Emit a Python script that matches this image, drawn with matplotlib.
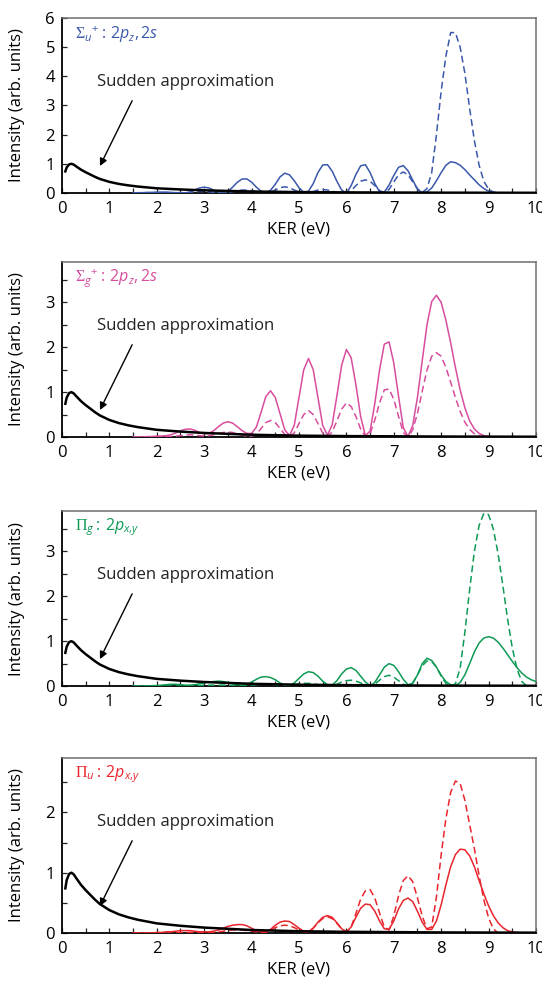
import numpy as np
import matplotlib
matplotlib.use("Agg")
import matplotlib.pyplot as plt
from matplotlib.ticker import MultipleLocator

plt.rcParams['font.family'] = ['Open Sans', 'DejaVu Sans']
plt.rcParams['mathtext.fontset'] = 'custom'
plt.rcParams['mathtext.rm'] = 'Liberation Serif'
plt.rcParams['mathtext.it'] = 'Open Sans:italic'
plt.rcParams['mathtext.sf'] = 'Open Sans'

# ---------------- data ----------------
# sudden approximation curve (same in every panel)
sudden_x = [0.07, 0.1, 0.15, 0.2, 0.25, 0.3, 0.4, 0.5, 0.6, 0.7, 0.8, 0.9, 1.0, 1.2, 1.4,
            1.6, 1.8, 2.0, 2.5, 3.0, 3.5, 4.0, 4.5, 5.0, 6.0, 7.0, 8.0, 9.0, 10.0]
sudden_y = [0.74, 0.88, 0.98, 1.0, 0.97, 0.91, 0.8, 0.71, 0.63, 0.55, 0.48, 0.43, 0.38, 0.31, 0.26,
            0.22, 0.19, 0.16, 0.12, 0.09, 0.07, 0.05, 0.04, 0.03, 0.02, 0.015, 0.01, 0.008, 0.006]

# KER sample positions 1.5 ... 10.0 eV (step 0.1)
ker = np.linspace(1.5, 10.0, 86)

sigma_u_solid = [0.0, 0.01, 0.01, 0.02, 0.02,
                 0.03, 0.03, 0.03, 0.02, 0.01, 0.01, 0.0, 0.03, 0.1, 0.17,
                 0.2, 0.17, 0.1, 0.03, 0.0, 0.05, 0.2, 0.37, 0.48, 0.48,
                 0.37, 0.2, 0.06, 0.0, 0.09, 0.3, 0.55, 0.68, 0.62, 0.42,
                 0.18, 0.02, 0.06, 0.32, 0.7, 0.96, 0.97, 0.75, 0.4, 0.1,
                 0.0, 0.25, 0.63, 0.93, 0.97, 0.7, 0.32, 0.04, 0.03, 0.27,
                 0.6, 0.88, 0.94, 0.76, 0.44, 0.13, 0.0, 0.04, 0.17, 0.42,
                 0.7, 0.95, 1.07, 1.04, 0.95, 0.8, 0.62, 0.45, 0.28, 0.15,
                 0.06, 0.02, 0.0, 0.0, 0.0, 0.0, 0.0, 0.0, 0.0, 0.0,
                 0.0]
sigma_u_dashed = [0.0, 0.0, 0.0, 0.0, 0.0,
                  0.0, 0.0, 0.0, 0.0, 0.0, 0.01, 0.01, 0.02, 0.04, 0.05,
                  0.05, 0.04, 0.02, 0.01, 0.0, 0.01, 0.04, 0.08, 0.1, 0.1,
                  0.08, 0.04, 0.01, 0.0, 0.03, 0.1, 0.18, 0.21, 0.18, 0.1,
                  0.04, 0.01, 0.01, 0.05, 0.1, 0.12, 0.1, 0.06, 0.02, 0.0,
                  0.01, 0.08, 0.25, 0.4, 0.45, 0.4, 0.25, 0.08, 0.02, 0.12,
                  0.38, 0.62, 0.72, 0.62, 0.38, 0.14, 0.02, 0.15, 0.7, 2.0,
                  3.5, 4.7, 5.5, 5.5, 5.0, 4.1, 2.9, 1.8, 0.95, 0.4,
                  0.13, 0.03, 0.0, 0.0, 0.0, 0.0, 0.0, 0.0, 0.0, 0.0,
                  0.0]
sigma_g_solid = [0.0, 0.0, 0.0, 0.01, 0.01,
                 0.02, 0.02, 0.03, 0.05, 0.09, 0.14, 0.17, 0.18, 0.15, 0.1,
                 0.07, 0.08, 0.14, 0.23, 0.31, 0.34, 0.31, 0.23, 0.14, 0.08,
                 0.08, 0.22, 0.55, 0.9, 1.03, 0.88, 0.52, 0.16, 0.03, 0.26,
                 0.88, 1.5, 1.75, 1.5, 0.88, 0.26, 0.04, 0.27, 0.92, 1.6,
                 1.95, 1.77, 1.17, 0.46, 0.03, 0.13, 0.75, 1.5, 2.07, 2.12,
                 1.65, 0.91, 0.21, 0.01, 0.26, 0.89, 1.7, 2.5, 3.02, 3.16,
                 3.0, 2.6, 2.1, 1.55, 1.05, 0.65, 0.36, 0.18, 0.08, 0.03,
                 0.01, 0.0, 0.0, 0.0, 0.0, 0.0, 0.0, 0.0, 0.0, 0.0,
                 0.0]
sigma_g_dashed = [0.0, 0.0, 0.0, 0.0, 0.0,
                  0.01, 0.01, 0.01, 0.01, 0.02, 0.03, 0.04, 0.05, 0.04, 0.03,
                  0.02, 0.03, 0.05, 0.08, 0.1, 0.11, 0.1, 0.07, 0.04, 0.02,
                  0.02, 0.06, 0.19, 0.32, 0.37, 0.32, 0.19, 0.06, 0.01, 0.09,
                  0.3, 0.5, 0.59, 0.5, 0.3, 0.09, 0.01, 0.11, 0.36, 0.62,
                  0.76, 0.68, 0.46, 0.18, 0.01, 0.07, 0.38, 0.76, 1.05, 1.07,
                  0.84, 0.46, 0.1, 0.0, 0.16, 0.53, 1.02, 1.49, 1.8, 1.88,
                  1.8, 1.55, 1.22, 0.88, 0.57, 0.33, 0.17, 0.07, 0.02, 0.0,
                  0.0, 0.0, 0.0, 0.0, 0.0, 0.0, 0.0, 0.0, 0.0, 0.0,
                  0.0]
pi_g_solid = [0.0, 0.0, 0.0, 0.0, 0.01,
              0.01, 0.02, 0.03, 0.04, 0.04, 0.03, 0.02, 0.02, 0.03, 0.05,
              0.07, 0.09, 0.1, 0.11, 0.1, 0.08, 0.05, 0.03, 0.02, 0.04,
              0.09, 0.15, 0.2, 0.21, 0.19, 0.14, 0.07, 0.02, 0.01, 0.07,
              0.17, 0.27, 0.32, 0.3, 0.22, 0.11, 0.03, 0.02, 0.12, 0.27,
              0.38, 0.41, 0.35, 0.22, 0.09, 0.01, 0.08, 0.25, 0.42, 0.5,
              0.46, 0.32, 0.15, 0.03, 0.06, 0.25, 0.5, 0.62, 0.57, 0.42,
              0.24, 0.1, 0.03, 0.01, 0.08, 0.25, 0.5, 0.76, 0.96, 1.07,
              1.1, 1.07, 0.98, 0.85, 0.7, 0.55, 0.41, 0.29, 0.2, 0.14,
              0.1]
pi_g_dashed = [0.0, 0.0, 0.0, 0.0, 0.0,
               0.0, 0.0, 0.0, 0.0, 0.0, 0.0, 0.0, 0.01, 0.01, 0.01,
               0.02, 0.02, 0.02, 0.02, 0.02, 0.02, 0.01, 0.01, 0.01, 0.01,
               0.02, 0.03, 0.04, 0.05, 0.04, 0.03, 0.01, 0.0, 0.01, 0.03,
               0.05, 0.06, 0.06, 0.05, 0.03, 0.01, 0.0, 0.01, 0.04, 0.09,
               0.12, 0.13, 0.11, 0.07, 0.02, 0.0, 0.04, 0.13, 0.21, 0.24,
               0.2, 0.12, 0.04, 0.0, 0.07, 0.25, 0.45, 0.56, 0.55, 0.42,
               0.22, 0.06, 0.0, 0.05, 0.4, 1.2, 2.15, 3.0, 3.58, 3.85,
               3.82, 3.5, 2.95, 2.25, 1.5, 0.85, 0.38, 0.1, 0.01, 0.0,
               0.0]
pi_u_solid = [0.0, 0.0, 0.0, 0.0, 0.0,
              0.01, 0.01, 0.02, 0.02, 0.03, 0.04, 0.04, 0.04, 0.03, 0.02,
              0.02, 0.02, 0.03, 0.05, 0.08, 0.11, 0.13, 0.14, 0.14, 0.12,
              0.08, 0.04, 0.02, 0.02, 0.06, 0.13, 0.18, 0.2, 0.19, 0.14,
              0.08, 0.03, 0.02, 0.08, 0.18, 0.26, 0.29, 0.26, 0.17, 0.07,
              0.02, 0.1, 0.26, 0.41, 0.48, 0.47, 0.36, 0.2, 0.07, 0.06,
              0.2, 0.4, 0.54, 0.58, 0.52, 0.36, 0.18, 0.06, 0.06, 0.2,
              0.47, 0.8, 1.1, 1.3, 1.39, 1.38, 1.28, 1.1, 0.87, 0.65,
              0.45, 0.29, 0.17, 0.09, 0.04, 0.02, 0.01, 0.0, 0.0, 0.0,
              0.0]
pi_u_dashed = [0.0, 0.0, 0.0, 0.0, 0.0,
               0.0, 0.0, 0.0, 0.0, 0.0, 0.01, 0.01, 0.01, 0.01, 0.01,
               0.01, 0.01, 0.01, 0.02, 0.03, 0.04, 0.05, 0.05, 0.05, 0.04,
               0.03, 0.02, 0.01, 0.01, 0.04, 0.09, 0.12, 0.13, 0.12, 0.09,
               0.05, 0.02, 0.02, 0.08, 0.17, 0.24, 0.27, 0.24, 0.16, 0.07,
               0.02, 0.1, 0.32, 0.56, 0.7, 0.72, 0.58, 0.33, 0.1, 0.05,
               0.28, 0.62, 0.87, 0.95, 0.85, 0.58, 0.28, 0.07, 0.1, 0.6,
               1.3, 1.9, 2.33, 2.52, 2.48, 2.2, 1.8, 1.4, 0.95, 0.55,
               0.25, 0.07, 0.0, 0.0, 0.0, 0.0, 0.0, 0.0, 0.0, 0.0,
               0.0]

labels = [r'$\Sigma_{u}{}^{\mathsf{+}}\mathsf{:}\,\mathsf{2}p_{z}\mathsf{,}\,\mathsf{2}s$',
          r'$\Sigma_{g}{}^{\mathsf{+}}\mathsf{:}\,\mathsf{2}p_{z}\mathsf{,}\,\mathsf{2}s$',
          r'$\Pi_{g}\mathsf{:}\,\mathsf{2}p_{x\mathsf{,}y}$',
          r'$\Pi_{u}\mathsf{:}\,\mathsf{2}p_{x\mathsf{,}y}$']
colors = ['#3a58ab', '#d84d9e', '#0e9a55', '#e8252d']
ymaxes = [6.0, 3.9, 3.9, 2.9]
yticks = [[0, 1, 2, 3, 4, 5, 6], [0, 1, 2, 3], [0, 1, 2, 3], [0, 1, 2]]
solids = [sigma_u_solid, sigma_g_solid, pi_g_solid, pi_u_solid]
dashes = [sigma_u_dashed, sigma_g_dashed, pi_g_dashed, pi_u_dashed]
xticks = [0, 1, 2, 3, 4, 5, 6, 7, 8, 9, 10]

# ---------------- figure ----------------
fig = plt.figure(figsize=(5.42, 9.84), dpi=100)
bottoms = [0.8039, 0.5559, 0.3028, 0.0518]
for i in range(4):
    ax = fig.add_axes([0.1144, bottoms[i], 0.8745, 0.1778])
    ax.plot(ker, dashes[i], color=colors[i], lw=1.1, dashes=(4.5, 2.5), zorder=3)
    ax.plot(ker, solids[i], color=colors[i], lw=1.1, zorder=4)
    ax.plot(sudden_x, sudden_y, color='black', lw=1.8, zorder=5)
    ax.set_xlim(0, 10)
    ax.set_ylim(0, ymaxes[i])
    ax.set_xticks(xticks)
    ax.set_yticks(yticks[i])
    ax.xaxis.set_minor_locator(MultipleLocator(0.5))
    if i > 0:
        ax.yaxis.set_minor_locator(MultipleLocator(0.5))
    ax.tick_params(which='both', direction='in', length=3.5, width=0.9,
                   top=False, right=False, labelsize=12, color='#222222')
    ax.tick_params(axis='x', which='major', pad=6)
    ax.tick_params(axis='y', which='major', pad=5)
    for s in ['left', 'bottom']:
        ax.spines[s].set_color('black')
        ax.spines[s].set_linewidth(1.3)
    for s in ['top', 'right']:
        ax.spines[s].set_color('#6e6e6e')
        ax.spines[s].set_linewidth(1.1)
    ax.set_xlabel('KER (eV)', fontsize=12, labelpad=3)
    ax.set_ylabel('Intensity (arb. units)', fontsize=12)
    ax.yaxis.set_label_coords(-0.078, 0.5)
    ax.text(0.027, 0.907, labels[i], transform=ax.transAxes, color=colors[i],
            fontsize=11.5, ha='left', va='center')
    ax.text(0.074, 0.634, 'Sudden approximation', transform=ax.transAxes,
            fontsize=12, ha='left', va='center', color='#222222')
    ax.annotate('', xy=(0.080, 0.154), xycoords='axes fraction',
                xytext=(0.148, 0.527), textcoords='axes fraction',
                arrowprops=dict(arrowstyle='-|>', color='black', lw=1.0,
                                mutation_scale=11, shrinkA=0, shrinkB=0))

fig.savefig('out.png', dpi=100, facecolor='white')
